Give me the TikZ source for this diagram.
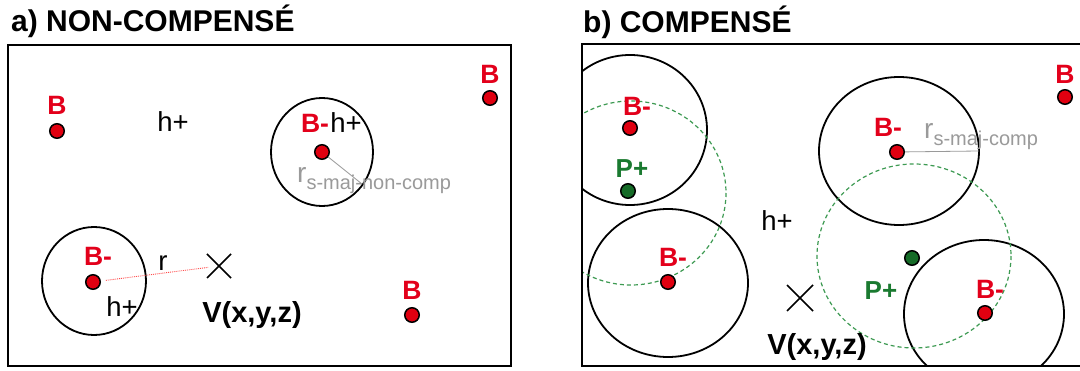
\documentclass[tikz,border=0pt]{standalone}
\usepackage{fontspec}
\setmainfont{Liberation Sans}
\usetikzlibrary{shapes.geometric}
\definecolor{bred}{HTML}{E3001B}
\definecolor{dotred}{HTML}{E00010}
\definecolor{pgreen}{HTML}{1A7A30}
\definecolor{dotgreen}{HTML}{156B27}
\definecolor{dgreen}{HTML}{3D9A52}
\definecolor{rgray}{HTML}{9A9A9A}
\newcommand{\subtxt}[1]{\raisebox{-6.5pt}{\fontsize{20}{20}\selectfont #1}}
\begin{document}
\begin{tikzpicture}[x=1pt,y=-1pt,
  dotr/.style={circle,draw=black,line width=1.5pt,fill=dotred,minimum size=14.5pt,inner sep=0pt},
  dotg/.style={circle,draw=black,line width=1.5pt,fill=dotgreen,minimum size=14.5pt,inner sep=0pt},
  blab/.style={text=bred,font=\fontsize{26.5}{26.5}\selectfont\bfseries,inner sep=0pt},
  plab/.style={text=pgreen,font=\fontsize{26}{26}\selectfont\bfseries,inner sep=0pt},
  hlab/.style={font=\fontsize{27.5}{27.5}\selectfont,inner sep=0pt},
  vlab/.style={font=\fontsize{29}{29}\selectfont\bfseries,inner sep=0pt,anchor=base},
  title/.style={font=\fontsize{30}{30}\selectfont\bfseries,inner sep=0pt,anchor=base west},
  rlab/.style={text=rgray,font=\fontsize{28}{28}\selectfont,inner sep=0pt,anchor=base west},
  ring/.style={draw=black,line width=1.8pt},
  dring/.style={draw=dgreen,line width=1.2pt,dash pattern=on 4pt off 3pt},
  frame/.style={draw=black,line width=2pt},
  cross/.style={draw=black,line width=1.6pt},
]
\useasboundingbox[fill=white] (0,0) rectangle (1080,371);

% ---------- panel a ----------
\node[title] (ta) at (11,32) {a) NON-COMPENSÉ};
\draw[frame] (8,45) rectangle (511,366);
\draw[ring] (322,152) ellipse [x radius=51, y radius=54];
\draw[ring] (94,281) ellipse [x radius=52, y radius=54];

\node[blab] (lb1) at (57,105) {B};
\node[dotr] (b1) at (57,131) {};
\node[blab] (lb2) at (490,74) {B};
\node[dotr] (b2) at (490,98) {};
\node[blab] (lb3) at (412,290) {B};
\node[dotr] (b3) at (412,315) {};
\node[hlab] (h1) at (173,122) {h+};

\node[blab] (lbm1) at (315,123) {B-};
\node[hlab] (h2) at (346,123) {h+};
\node[dotr] (bm1) at (322,152) {};
\coordinate (ea) at (362,184);
\draw[rgray,line width=0.8pt] (bm1) -- (ea);
\node[rlab] (ra) at (297,183) {r\subtxt{s-maj-non-comp}};

\node[blab] (lbm2) at (98,256) {B-};
\node[dotr] (bm2) at (93,282) {};
\node[hlab] (h3) at (122,307) {h+};
\coordinate (va) at (219,266);
\draw[red!70!white,line width=0.9pt,densely dotted,shorten <=13pt,shorten >=11pt] (bm2.center) -- (va);
\draw[cross] (va) +(-12,-12) -- +(12,12) (va) +(12,-12) -- +(-12,12);
\node[hlab] (rr) at (163,263) {r};
\node[vlab] (vta) at (252,323) {V(x,y,z)};

% ---------- panel b ----------
\node[title] (tb) at (583,33) {b) COMPENSÉ};
\begin{scope}
\clip (582,44) rectangle (1090,366);
\draw[ring] (630,130) ellipse [x radius=77, y radius=75];
\draw[ring] (668,283) ellipse [x radius=80, y radius=74];
\draw[ring] (899,151) ellipse [x radius=80, y radius=74];
\draw[ring] (984,314) ellipse [x radius=80, y radius=74];
\draw[dring] (631,193) ellipse [x radius=95, y radius=92];
\draw[dring] (914,256) ellipse [x radius=97, y radius=92];
\end{scope}
\draw[frame] (1090,44) -- (582,44) -- (582,366) -- (1090,366);

\node[blab] (lbb1) at (637,106) {B-};
\node[dotr] (bb1) at (630,128) {};
\node[plab] (lp1) at (632,169) {P+};
\node[dotg] (p1) at (628,191) {};
\node[blab] (lbb2) at (673,257) {B-};
\node[dotr] (bb2) at (668,282) {};

\node[blab] (lbb3) at (888,127) {B-};
\node[dotr] (bb3) at (897,152) {};
\coordinate (eb) at (979,151);
\draw[rgray,line width=0.8pt] (bb3) -- (eb);
\node[rlab] (rb) at (924,139) {r\subtxt{s-maj-comp}};

\node[blab] (lbb5) at (1065,74) {B};
\node[dotr] (bb5) at (1065,97) {};

\node[hlab] (h4) at (777,221) {h+};
\node[dotg] (p2) at (912,258) {};
\node[plab] (lp2) at (881,291) {P+};
\node[blab] (lbb4) at (990,289) {B-};
\node[dotr] (bb4) at (985,313) {};

\coordinate (vb) at (800,298);
\draw[cross] (vb) +(-13,-13) -- +(13,13) (vb) +(13,-13) -- +(-13,13);
\node[vlab] (vtb) at (817,355) {V(x,y,z)};
\end{tikzpicture}
\end{document}
